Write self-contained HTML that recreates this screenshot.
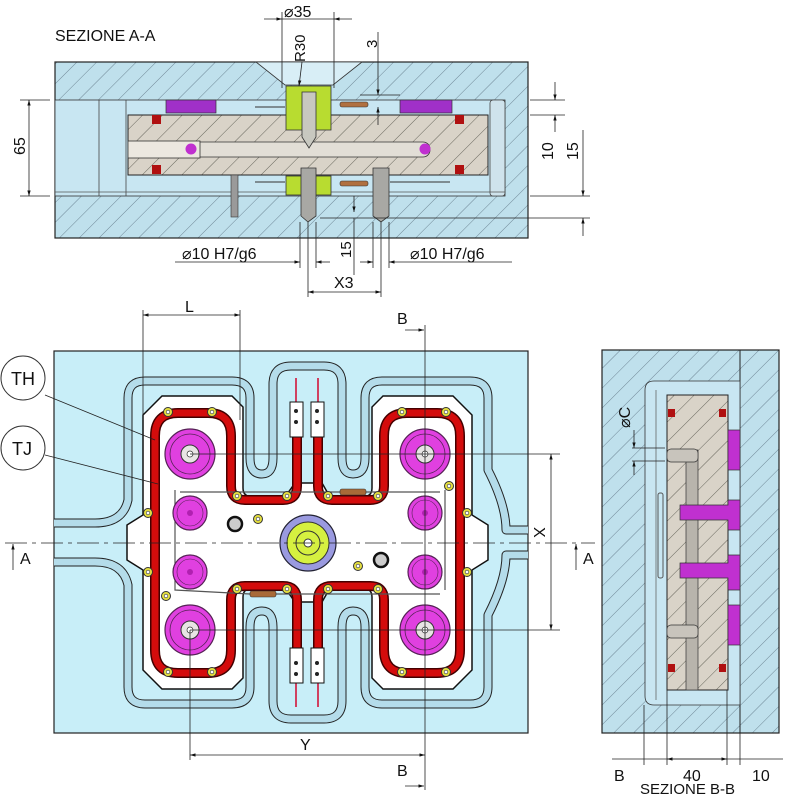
<!DOCTYPE html>
<html><head><meta charset="utf-8"><style>
html,body{margin:0;padding:0;background:#fff}
svg{display:block}
text{font-family:"Liberation Sans",sans-serif;fill:#111}
</style></head><body>
<svg width="800" height="796" viewBox="0 0 800 796" xmlns="http://www.w3.org/2000/svg">
<defs>
<pattern id="hb" width="14" height="14" patternUnits="userSpaceOnUse" patternTransform="rotate(45)">
<rect width="14" height="14" fill="#bfe0ec"/><line x1="0" y1="0" x2="0" y2="14" stroke="#5a7080" stroke-width="0.8"/></pattern>
<pattern id="ht" width="14" height="14" patternUnits="userSpaceOnUse" patternTransform="rotate(45)">
<rect width="14" height="14" fill="#d9d3c8"/><line x1="0" y1="0" x2="0" y2="14" stroke="#4a4a40" stroke-width="0.8"/></pattern>
<marker id="ar" viewBox="0 0 10 10" refX="10" refY="5" markerWidth="7" markerHeight="7" orient="auto-start-reverse"><path d="M0,2 L10,5 L0,8 z" fill="#111"/></marker>
<g id="scr"><circle r="4.5" fill="#e6e040" stroke="#333" stroke-width="1"/><circle r="1.8" fill="#fff" stroke="#333" stroke-width="0.6"/></g>
<g id="big"><circle r="25" fill="#e040e0" stroke="#552255" stroke-width="1.2"/><circle r="20" fill="none" stroke="#552255" stroke-width="0.8"/><circle r="9" fill="#e8e4e4" stroke="#333"/><circle r="3" fill="#fff" stroke="#333" stroke-width="0.7"/></g>
<g id="sm"><circle r="17" fill="#e040e0" stroke="#552255" stroke-width="1.2"/><circle r="13" fill="none" stroke="#552255" stroke-width="0.6"/><circle r="3" fill="#b020b0"/></g>
</defs>

<!-- ============ SECTION A-A ============ -->
<text x="55" y="41" font-size="16">SEZIONE A-A</text>
<rect x="55" y="62" width="473" height="176" fill="url(#hb)" stroke="#222" stroke-width="1.2"/>
<rect x="55" y="100" width="450" height="96" fill="#c8e6f2" stroke="#333" stroke-width="0.8"/>
<line x1="99" y1="100" x2="99" y2="196" stroke="#444" stroke-width="0.8"/>
<line x1="126" y1="100" x2="126" y2="196" stroke="#444" stroke-width="0.8"/>
<rect x="490" y="100" width="15" height="96" fill="#cfe3ec" stroke="#444" stroke-width="0.8" rx="3"/>
<line x1="55" y1="192" x2="505" y2="192" stroke="#555" stroke-width="0.7"/>
<path d="M256,62 L362,62 L333,85 L285,85 Z" fill="#d8eef6" stroke="#333" stroke-width="0.8"/>
<rect x="128" y="115" width="360" height="60" fill="url(#ht)" stroke="#222" stroke-width="1"/>
<rect x="128" y="142" width="302" height="15" fill="#e2ded6" stroke="#333" stroke-width="0.8" rx="7"/>
<rect x="128" y="141" width="72" height="17" fill="#ece8e0" stroke="#333" stroke-width="0.8"/>
<circle cx="191" cy="149" r="5.5" fill="#c030d0"/><circle cx="425" cy="149" r="5.5" fill="#c030d0"/>
<rect x="166" y="100" width="50" height="13" fill="#a030c8" stroke="#333" stroke-width="0.7"/>
<rect x="400" y="100" width="52" height="13" fill="#a030c8" stroke="#333" stroke-width="0.7"/>
<rect x="152" y="115" width="9" height="9" fill="#b01010"/><rect x="455" y="115" width="9" height="9" fill="#b01010"/>
<rect x="152" y="165" width="9" height="9" fill="#b01010"/><rect x="455" y="165" width="9" height="9" fill="#b01010"/>
<rect x="286" y="86" width="45" height="44" fill="#b8dc30" stroke="#333" stroke-width="0.8"/>
<path d="M302,92 L316,92 L316,137 L309,148 L302,137 Z" fill="#c8c8c0" stroke="#333" stroke-width="0.8"/>
<rect x="286" y="176" width="45" height="19" fill="#b8dc30" stroke="#333" stroke-width="0.8"/>
<path d="M301,168 L316,168 L316,216 L308,222 L301,216 Z" fill="#a8a8a4" stroke="#333" stroke-width="0.8"/>
<path d="M373,168 L389,168 L389,216 L381,222 L373,216 Z" fill="#a8a8a4" stroke="#333" stroke-width="0.8"/>
<rect x="231" y="175" width="7" height="42" fill="#9a9a9a" stroke="#333" stroke-width="0.6"/>
<rect x="340" y="181" width="28" height="5" fill="#b07040" stroke="#333" stroke-width="0.6" rx="2"/>
<rect x="340" y="102" width="28" height="5" fill="#b07040" stroke="#333" stroke-width="0.6" rx="2"/>
<line x1="255" y1="107" x2="285" y2="107" stroke="#333"/><line x1="255" y1="182" x2="285" y2="182" stroke="#333"/>
<line x1="390" y1="182" x2="450" y2="182" stroke="#333"/>
<g stroke="#222" stroke-width="0.8" fill="none">
<line x1="20" y1="100" x2="50" y2="100"/><line x1="20" y1="196" x2="50" y2="196"/>
<line x1="29" y1="100" x2="29" y2="196" marker-start="url(#ar)" marker-end="url(#ar)"/>
<line x1="282" y1="12" x2="282" y2="88"/><line x1="334" y1="12" x2="334" y2="88"/>
<line x1="264" y1="19" x2="282" y2="19" marker-end="url(#ar)"/><line x1="352" y1="19" x2="334" y2="19" marker-end="url(#ar)"/>
<line x1="282" y1="19" x2="334" y2="19"/>
<line x1="302" y1="62" x2="299" y2="86" marker-end="url(#ar)"/>
<line x1="378" y1="32" x2="378" y2="95" marker-end="url(#ar)"/><line x1="378" y1="125" x2="378" y2="107" marker-end="url(#ar)"/>
<line x1="360" y1="95" x2="400" y2="95"/>
<line x1="530" y1="100" x2="565" y2="100"/><line x1="530" y1="115" x2="565" y2="115"/>
<line x1="555" y1="82" x2="555" y2="100" marker-end="url(#ar)"/><line x1="555" y1="132" x2="555" y2="115" marker-end="url(#ar)"/>
<line x1="530" y1="196" x2="590" y2="196"/><line x1="320" y1="218" x2="590" y2="218"/>
<line x1="583" y1="130" x2="583" y2="196" marker-end="url(#ar)"/><line x1="583" y1="236" x2="583" y2="218" marker-end="url(#ar)"/>
<line x1="354" y1="196" x2="354" y2="212" marker-end="url(#ar)"/><line x1="354" y1="275" x2="354" y2="218" />
<line x1="300" y1="222" x2="300" y2="268"/><line x1="316" y1="222" x2="316" y2="268"/>
<line x1="373" y1="222" x2="373" y2="268"/><line x1="389" y1="222" x2="389" y2="268"/>
<line x1="308" y1="222" x2="308" y2="297"/><line x1="381" y1="222" x2="381" y2="297"/>
<line x1="175" y1="262" x2="300" y2="262" marker-end="url(#ar)"/><line x1="330" y1="262" x2="316" y2="262" marker-end="url(#ar)"/>
<line x1="360" y1="262" x2="373" y2="262" marker-end="url(#ar)"/><line x1="512" y1="262" x2="389" y2="262" marker-end="url(#ar)"/>
<line x1="308" y1="292" x2="381" y2="292" marker-start="url(#ar)" marker-end="url(#ar)"/>
</g>
<text x="284" y="17" font-size="16">⌀35</text>
<text transform="translate(305,62) rotate(-90)" font-size="15">R30</text>
<text transform="translate(377,48) rotate(-90)" font-size="15">3</text>
<text transform="translate(25,155) rotate(-90)" font-size="16">65</text>
<text transform="translate(553,160) rotate(-90)" font-size="16">10</text>
<text transform="translate(578,160) rotate(-90)" font-size="16">15</text>
<text x="182" y="259" font-size="16">⌀10 H7/g6</text>
<text x="410" y="259" font-size="16">⌀10 H7/g6</text>
<text transform="translate(351,258) rotate(-90)" font-size="15">15</text>
<text x="334" y="288" font-size="16">X3</text>

<!-- ============ PLAN VIEW ============ -->
<rect x="54" y="351" width="474" height="382" fill="#c8eef8" stroke="#222" stroke-width="1.2"/>
<g fill="none" stroke-linejoin="round">
<g id="chan">
<path d="M54,523 L95,523 Q123,523 128,500 L128,398 Q128,381 145,381 L232,381 Q250,381 250,398 L250,458 Q250,474 262,474 Q273,474 273,458 L273,384 Q273,366 291,366 L324,366 Q342,366 342,384 L342,458 Q342,474 353,474 Q365,474 365,458 L365,398 Q365,381 382,381 L470,381 Q488,381 488,398 L488,470 Q506,505 506,530 L528,530" stroke="#222" stroke-width="9"/>
<path d="M54,523 L95,523 Q123,523 128,500 L128,398 Q128,381 145,381 L232,381 Q250,381 250,398 L250,458 Q250,474 262,474 Q273,474 273,458 L273,384 Q273,366 291,366 L324,366 Q342,366 342,384 L342,458 Q342,474 353,474 Q365,474 365,458 L365,398 Q365,381 382,381 L470,381 Q488,381 488,398 L488,470 Q506,505 506,530 L528,530" stroke="#b4dcea" stroke-width="7"/>
</g>
<use href="#chan" transform="translate(0,1085) scale(1,-1)"/>
</g>
<path d="M162,396 L232,396 L243,407 L243,488 Q243,497 253,497 L285,497 L295,483 L322,483 L330,497 L362,497 Q372,497 372,488 L372,407 L383,396 L453,396 L472,415 L472,515 L488,525 L488,560 L472,570 L472,670 L453,689 L383,689 L372,678 L372,597 Q372,588 362,588 L330,588 L322,602 L295,602 L285,588 L253,588 Q243,588 243,597 L243,678 L232,689 L162,689 L143,670 L143,570 L127,560 L127,525 L143,515 L143,415 Z" fill="#fff" stroke="#111" stroke-width="1.5"/>
<g fill="none" stroke-linecap="butt">
<g id="ht1">
<path d="M297,437 L297,486 Q297,500 283,500 L245,500 Q231,500 231,486 L231,436 Q231,413 208,413 L178,413 Q155,413 155,436 L155,543" stroke="#400" stroke-width="10"/>
<path d="M297,437 L297,486 Q297,500 283,500 L245,500 Q231,500 231,486 L231,436 Q231,413 208,413 L178,413 Q155,413 155,436 L155,543" stroke="#d40c0c" stroke-width="7"/>
</g>
<use href="#ht1" transform="translate(615,0) scale(-1,1)"/>
<use href="#ht1" transform="translate(0,1086) scale(1,-1)"/>
<use href="#ht1" transform="translate(615,1086) scale(-1,-1)"/>
</g>
<g stroke="#555" stroke-width="1.2" fill="none">
<path d="M175,490 L175,590 L250,594 L440,594"/><path d="M445,490 L445,590"/><path d="M180,492 L440,492"/>
</g>
<rect x="340" y="489" width="26" height="6" fill="#a86a38" stroke="#333" stroke-width="0.6" rx="2"/>
<rect x="250" y="591" width="26" height="6" fill="#a86a38" stroke="#333" stroke-width="0.6" rx="2"/>
<g id="term">
<line x1="296" y1="378" x2="296" y2="402" stroke="#d04060" stroke-width="2"/><line x1="318" y1="378" x2="318" y2="402" stroke="#d04060" stroke-width="2"/>
<rect x="290" y="402" width="13" height="35" fill="#fff" stroke="#111" stroke-width="1"/>
<rect x="311" y="402" width="13" height="35" fill="#fff" stroke="#111" stroke-width="1"/>
<circle cx="296" cy="411" r="2" fill="#222"/><circle cx="296" cy="422" r="2" fill="#222"/>
<circle cx="317" cy="411" r="2" fill="#222"/><circle cx="317" cy="422" r="2" fill="#222"/>
</g>
<use href="#term" transform="translate(0,1085) scale(1,-1)"/>
<use href="#big" x="190" y="454"/><use href="#big" x="425" y="454"/><use href="#big" x="190" y="630"/><use href="#big" x="425" y="630"/>
<use href="#sm" x="190" y="513"/><use href="#sm" x="425" y="513"/><use href="#sm" x="190" y="572"/><use href="#sm" x="425" y="572"/>
<circle cx="308" cy="543" r="28" fill="#9a9ae0" stroke="#223" stroke-width="1.2"/>
<circle cx="308" cy="543" r="21" fill="#d6f040" stroke="#333"/>
<circle cx="308" cy="543" r="12" fill="none" stroke="#333"/>
<circle cx="308" cy="543" r="4" fill="#fff" stroke="#333"/>
<circle cx="235" cy="524" r="7" fill="#ccc" stroke="#111" stroke-width="2.5"/>
<circle cx="381" cy="560" r="7" fill="#ccc" stroke="#111" stroke-width="2.5"/>
<use href="#scr" x="168" y="412"/><use href="#scr" x="212" y="412"/><use href="#scr" x="402" y="412"/><use href="#scr" x="446" y="412"/>
<use href="#scr" x="168" y="672"/><use href="#scr" x="212" y="672"/><use href="#scr" x="402" y="672"/><use href="#scr" x="446" y="672"/>
<use href="#scr" x="148" y="513"/><use href="#scr" x="148" y="572"/><use href="#scr" x="467" y="513"/><use href="#scr" x="467" y="572"/>
<use href="#scr" x="237" y="496"/><use href="#scr" x="287" y="496"/><use href="#scr" x="328" y="496"/><use href="#scr" x="378" y="496"/>
<use href="#scr" x="237" y="589"/><use href="#scr" x="287" y="589"/><use href="#scr" x="328" y="589"/><use href="#scr" x="378" y="589"/>
<use href="#scr" x="258" y="519"/><use href="#scr" x="358" y="566"/><use href="#scr" x="166" y="596"/><use href="#scr" x="449" y="486"/>
<g stroke="#222" stroke-width="0.8" fill="none">
<line x1="5" y1="543" x2="595" y2="543" stroke-dasharray="22,5,4,5"/>
<line x1="190" y1="454" x2="560" y2="454"/><line x1="190" y1="630" x2="560" y2="630"/>
<line x1="551" y1="454" x2="551" y2="630" marker-start="url(#ar)" marker-end="url(#ar)"/>
<line x1="425" y1="325" x2="425" y2="790"/>
<line x1="190" y1="630" x2="190" y2="760"/>
<line x1="190" y1="755" x2="425" y2="755" marker-start="url(#ar)" marker-end="url(#ar)"/>
<line x1="143" y1="310" x2="143" y2="420"/><line x1="240" y1="310" x2="240" y2="420"/>
<line x1="143" y1="315" x2="240" y2="315" marker-start="url(#ar)" marker-end="url(#ar)"/>
<line x1="405" y1="330" x2="424" y2="330" marker-end="url(#ar)"/>
<line x1="405" y1="786" x2="424" y2="786" marker-end="url(#ar)"/>
<line x1="13" y1="570" x2="13" y2="544" marker-end="url(#ar)"/>
<line x1="576" y1="570" x2="576" y2="544" marker-end="url(#ar)"/>
<line x1="45" y1="395" x2="155" y2="440"/><line x1="45" y1="455" x2="158" y2="484"/>
</g>
<circle cx="23" cy="378" r="22" fill="#fff" stroke="#333"/>
<circle cx="23" cy="448" r="22" fill="#fff" stroke="#333"/>
<text x="11" y="385" font-size="18">TH</text>
<text x="12" y="455" font-size="18">TJ</text>
<text x="185" y="312" font-size="16">L</text>
<text x="397" y="324" font-size="16">B</text>
<text x="397" y="776" font-size="16">B</text>
<text x="300" y="750" font-size="16">Y</text>
<text transform="translate(534,527) rotate(90)" font-size="16">X</text>
<text x="20" y="564" font-size="16">A</text>
<text x="583" y="564" font-size="16">A</text>

<!-- ============ SECTION B-B ============ -->
<rect x="602" y="350" width="177" height="383" fill="url(#hb)" stroke="#222" stroke-width="1.2"/>
<line x1="740" y1="350" x2="740" y2="733" stroke="#222" stroke-width="1"/>
<path d="M654,381 L740,381 L740,705 L654,705 Q645,705 645,696 L645,390 Q645,381 654,381 Z" fill="#c8e6f2" stroke="#333" stroke-width="0.8"/>
<line x1="656" y1="390" x2="656" y2="700" stroke="#555" stroke-width="0.7"/>
<rect x="667" y="395" width="61" height="295" fill="url(#ht)" stroke="#222" stroke-width="1"/>
<rect x="686" y="450" width="12" height="240" fill="#b8b4ac" stroke="#333" stroke-width="0.7"/>
<rect x="667" y="449" width="31" height="13" fill="#c8c4bc" stroke="#333" stroke-width="0.7" rx="4"/>
<rect x="667" y="625" width="31" height="13" fill="#c8c4bc" stroke="#333" stroke-width="0.7" rx="4"/>
<path d="M680,505 L728,505 L728,500 L740,500 L740,530 L728,530 L728,520 L680,520 Z" fill="#c030d0" stroke="#333" stroke-width="0.7"/>
<path d="M680,563 L728,563 L728,555 L740,555 L740,590 L728,590 L728,578 L680,578 Z" fill="#c030d0" stroke="#333" stroke-width="0.7"/>
<rect x="728" y="430" width="12" height="40" fill="#c030d0" stroke="#333" stroke-width="0.7"/>
<rect x="728" y="605" width="12" height="40" fill="#c030d0" stroke="#333" stroke-width="0.7"/>
<rect x="668" y="409" width="7" height="8" fill="#b01010"/><rect x="719" y="409" width="7" height="8" fill="#b01010"/>
<rect x="668" y="664" width="7" height="8" fill="#b01010"/><rect x="719" y="664" width="7" height="8" fill="#b01010"/>
<rect x="658" y="493" width="5" height="85" fill="none" stroke="#555" stroke-width="1" rx="2"/>
<g stroke="#222" stroke-width="0.8" fill="none">
<line x1="644" y1="705" x2="644" y2="765"/><line x1="667" y1="690" x2="667" y2="765"/>
<line x1="727" y1="690" x2="727" y2="765"/><line x1="740" y1="733" x2="740" y2="765"/>
<line x1="612" y1="759" x2="783" y2="759"/>
<line x1="667" y1="759" x2="727" y2="759" marker-start="url(#ar)" marker-end="url(#ar)"/>
<line x1="632" y1="448" x2="665" y2="448"/><line x1="632" y1="461" x2="665" y2="461"/>
<line x1="634" y1="430" x2="634" y2="448" marker-end="url(#ar)"/><line x1="634" y1="475" x2="634" y2="461" marker-end="url(#ar)"/>
</g>
<text x="614" y="781" font-size="16">B</text>
<text x="683" y="781" font-size="16">40</text>
<text x="752" y="781" font-size="16">10</text>
<text x="640" y="794" font-size="15">SEZIONE B-B</text>
<text transform="translate(630,428) rotate(-90)" font-size="16">⌀C</text>
</svg>
</body></html>
